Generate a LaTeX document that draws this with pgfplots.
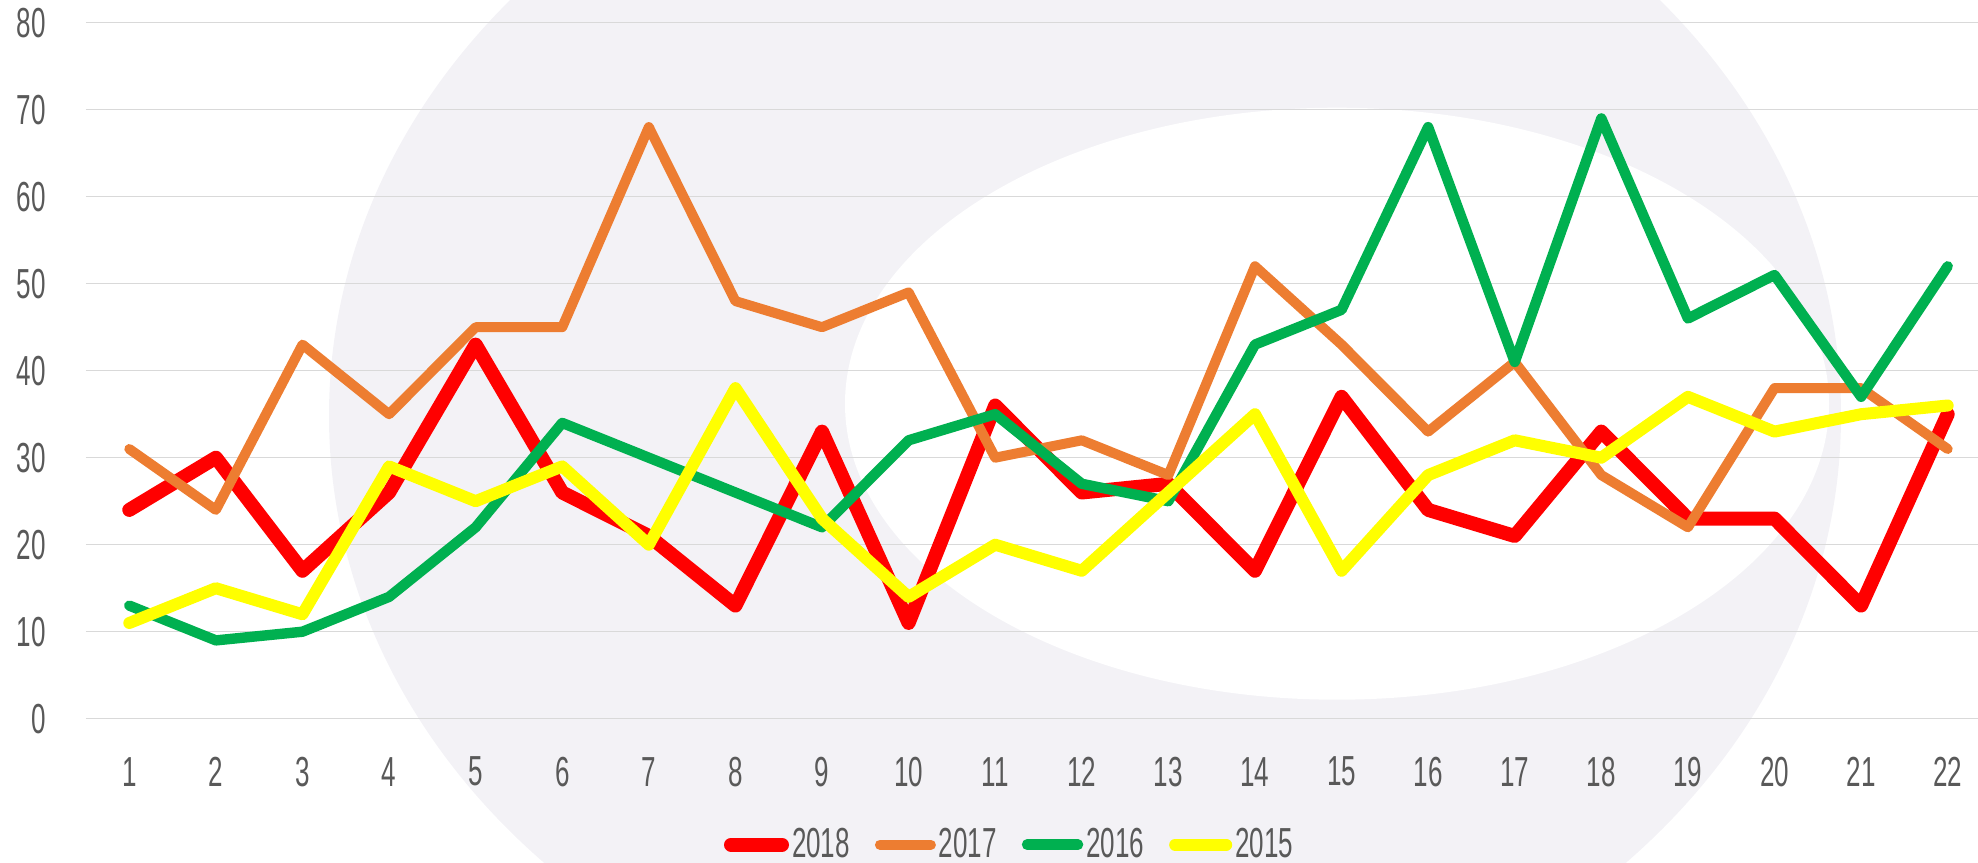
\documentclass[border=0pt]{standalone}
\usepackage{fontspec}
\setmainfont{Liberation Sans}[FakeStretch=0.62]
\usepackage{pgfplots}
\usepackage{pgfplotstable}
\pgfplotsset{compat=1.18}
\definecolor{cA}{HTML}{FF0000}
\definecolor{cB}{HTML}{ED7D31}
\definecolor{cC}{HTML}{00B050}
\definecolor{cD}{HTML}{FFFF00}
\definecolor{gridc}{HTML}{D9D9D9}
\definecolor{txt}{HTML}{595959}
\definecolor{bgA}{HTML}{F3F2F6}

\pgfplotstableread{
x y2018 y2017 y2016 y2015
1 24 31 13 11
2 30 24 9 15
3 17 43 10 12
4 26 35 14 29
5 43 45 22 25
6 26 45 34 29
7 21 68 30 20
8 13 48 26 38
9 33 45 22 23
10 11 49 32 14
11 36 30 35 20
12 26 32 27 17
13 27 28 25 26
14 17 52 43 35
15 37 43 47 17
16 24 33 68 28
17 21 41 41 32
18 33 28 69 30
19 23 22 46 37
20 23 38 51 33
21 13 38 37 35
22 35 31 52 36
}\datatable

\begin{document}
\begin{tikzpicture}
\fill[bgA] (499.5pt,151.5pt) ellipse [x radius=378pt, y radius=320pt];
\fill[white] (625.5pt,157.5pt) ellipse [x radius=246pt, y radius=148pt];
\begin{axis}[
  name=ax, at={(0,0)}, anchor=south west,
  width=946pt, height=348pt, scale only axis,
  xmin=0.5, xmax=22.35, ymin=0, ymax=80,
  xtick={1,...,22}, ytick={0,10,...,80},
  axis line style={draw=none},
  major tick length=0pt,
  ymajorgrids, grid style={color=gridc, line width=0.75pt},
  /pgf/number format/assume math mode=true,
  tick label style={font=\fontsize{21}{21}\selectfont, text=txt},
  xticklabel style={anchor=center, inner sep=0pt, yshift=-26.5pt},
  yticklabel style={anchor=east, inner sep=0pt, xshift=-20pt},
  legend columns=4,
  legend style={at={(0.4884,-0.181)}, anchor=center, draw=none, fill=none,
    font=\fontsize{21}{21}\selectfont, text=txt,
    nodes={inner xsep=1.5pt, inner ysep=0pt},
    /tikz/every even column/.append style={column sep=11pt}},
  legend image code/.code={\draw[#1, line cap=round] (0pt,0pt) -- (25.5pt,0pt);},
  every axis plot/.append style={line join=round, line cap=round},
]
\addplot[cA, line width=7pt] table[x=x, y=y2018] {\datatable};
\addlegendentry{2018}
\addplot[cB, line width=5pt] table[x=x, y=y2017] {\datatable};
\addlegendentry{2017}
\addplot[cC, line width=5.2pt] table[x=x, y=y2016] {\datatable};
\addlegendentry{2016}
\addplot[cD, line width=6pt] table[x=x, y=y2015] {\datatable};
\addlegendentry{2015}
\end{axis}
\pgfresetboundingbox
\path[use as bounding box] (-43pt,-72pt) rectangle (946pt,359.35pt);
\end{tikzpicture}
\end{document}
